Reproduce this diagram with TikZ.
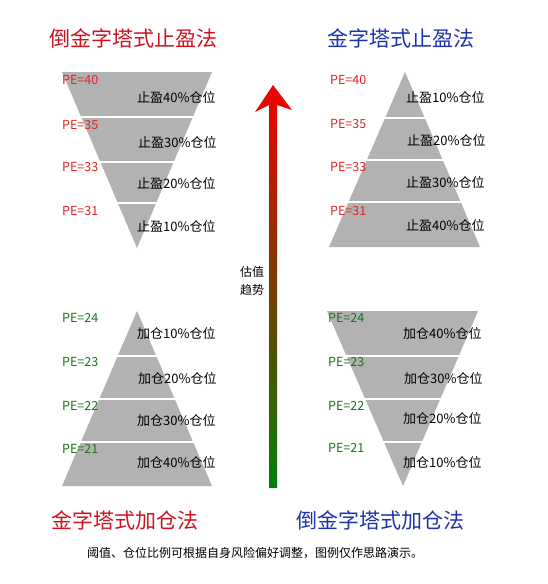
\documentclass[tikz,border=0pt]{standalone}
\usepackage{fontspec}
\setmainfont{Noto Sans CJK SC}
\usetikzlibrary{positioning}
\definecolor{titlered}{RGB}{205,20,30}
\definecolor{titleblue}{RGB}{30,50,170}
\definecolor{pered}{RGB}{225,35,35}
\definecolor{pegreen}{RGB}{25,115,25}
\definecolor{bandgray}{RGB}{178,178,178}
\definecolor{arrowred}{RGB}{240,0,0}
\definecolor{arrowgreen}{RGB}{0,125,10}
\tikzset{
  pyrtitle/.style={
    font=\fontsize{21}{24}\selectfont,
    inner sep=0pt
  },
  pelabel/.style={
    anchor=west,
    inner sep=0pt,
    font=\fontsize{12.5}{14}\selectfont
  },
  share/.style={
    anchor=west,
    inner sep=0pt,
    font=\fontsize{13}{15}\selectfont
  },
  pyramid/.style={
    fill=bandgray
  },
  gap/.style={
    white,
    line width=2.2pt
  }
}

\begin{document}
\begin{tikzpicture}[x=1pt,y=-1pt]
  \useasboundingbox[fill=white] (0,0) rectangle (547,584);

  % titles
  \node[pyrtitle, text=titlered] (t1) at (133,38) {倒金字塔式止盈法};
  \node[pyrtitle, text=titleblue] (t2) at (401,38) {金字塔式止盈法};
  \node[pyrtitle, text=titlered] (t3) at (125,520) {金字塔式加仓法};
  \node[pyrtitle, text=titleblue] (t4) at (380,520) {倒金字塔式加仓法};

  % top left: inverted pyramid
  \coordinate (a1) at (62,72);
  \coordinate (a2) at (212,72);
  \coordinate (a3) at (137,248);
  \fill[pyramid] (a1) -- (a2) -- (a3) -- cycle;
  \draw[gap] (60,117) -- (214,117);
  \draw[gap] (60,162) -- (214,162);
  \draw[gap] (60,203) -- (214,203);
  \node[pelabel, text=pered] (pa1) at (62,80) {PE=40};
  \node[pelabel, text=pered] (pa2) at (62,125) {PE=35};
  \node[pelabel, text=pered] (pa3) at (62,167) {PE=33};
  \node[pelabel, text=pered] (pa4) at (62,211) {PE=31};
  \node[share] (sa1) at (137,97) {止盈40\%仓位};
  \node[share] (sa2) at (138,142) {止盈30\%仓位};
  \node[share] (sa3) at (137,183) {止盈20\%仓位};
  \node[share] (sa4) at (137,226) {止盈10\%仓位};

  % top right: pyramid
  \coordinate (b1) at (405,72);
  \coordinate (b2) at (480,247);
  \coordinate (b3) at (329,247);
  \fill[pyramid] (b1) -- (b2) -- (b3) -- cycle;
  \draw[gap] (327,118) -- (482,118);
  \draw[gap] (327,160) -- (482,160);
  \draw[gap] (327,202) -- (482,202);
  \node[pelabel, text=pered] (pb1) at (330,80) {PE=40};
  \node[pelabel, text=pered] (pb2) at (330,124) {PE=35};
  \node[pelabel, text=pered] (pb3) at (330,167) {PE=33};
  \node[pelabel, text=pered] (pb4) at (330,211) {PE=31};
  \node[share] (sb1) at (406,97) {止盈10\%仓位};
  \node[share] (sb2) at (407,140) {止盈20\%仓位};
  \node[share] (sb3) at (406,182) {止盈30\%仓位};
  \node[share] (sb4) at (406,225) {止盈40\%仓位};

  % bottom left: pyramid
  \coordinate (c1) at (137,311);
  \coordinate (c2) at (212,486);
  \coordinate (c3) at (62,486);
  \fill[pyramid] (c1) -- (c2) -- (c3) -- cycle;
  \draw[gap] (60,356) -- (214,356);
  \draw[gap] (60,399) -- (214,399);
  \draw[gap] (60,442) -- (214,442);
  \node[pelabel, text=pegreen] (pc1) at (62,318) {PE=24};
  \node[pelabel, text=pegreen] (pc2) at (62,362) {PE=23};
  \node[pelabel, text=pegreen] (pc3) at (62,406) {PE=22};
  \node[pelabel, text=pegreen] (pc4) at (62,449) {PE=21};
  \node[share] (sc1) at (137,334) {加仓10\%仓位};
  \node[share] (sc2) at (138,379) {加仓20\%仓位};
  \node[share] (sc3) at (137,421) {加仓30\%仓位};
  \node[share] (sc4) at (137,463) {加仓40\%仓位};

  % bottom right: inverted pyramid
  \coordinate (d1) at (327,311);
  \coordinate (d2) at (478,311);
  \coordinate (d3) at (403,486);
  \fill[pyramid] (d1) -- (d2) -- (d3) -- cycle;
  \draw[gap] (325,356) -- (480,356);
  \draw[gap] (325,399) -- (480,399);
  \draw[gap] (325,442) -- (480,442);
  \node[pelabel, text=pegreen] (pd1) at (328,318) {PE=24};
  \node[pelabel, text=pegreen] (pd2) at (328,362) {PE=23};
  \node[pelabel, text=pegreen] (pd3) at (328,406) {PE=22};
  \node[pelabel, text=pegreen] (pd4) at (328,448) {PE=21};
  \node[share] (sd1) at (403,334) {加仓40\%仓位};
  \node[share] (sd2) at (404,379) {加仓30\%仓位};
  \node[share] (sd3) at (403,419) {加仓20\%仓位};
  \node[share] (sd4) at (403,463) {加仓10\%仓位};

  % valuation arrow
  \coordinate (tip) at (273,85);
  \coordinate (foot) at (273,488);
  \shade[top color=arrowred, bottom color=arrowgreen]
    (tip) -- (292,110) -- (277,105) -- (277,488) -- (269,488)
    -- (269,105) -- (255,112) -- cycle;
  \node[font=\fontsize{12}{18}\selectfont, align=center, inner sep=0pt]
    (trend) at (252,281) {估值\\趋势};

  % footnote
  \node[font=\fontsize{12}{14}\selectfont, inner sep=0pt] (note) at (255,553)
    {阈值、仓位比例可根据自身风险偏好调整，图例仅作思路演示。};
\end{tikzpicture}
\end{document}
